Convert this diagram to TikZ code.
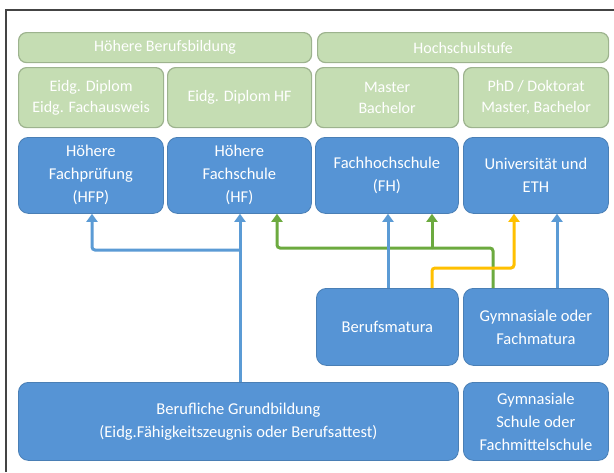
\documentclass[tikz,border=0pt]{standalone}
\usepackage{fontspec}
\setmainfont{Carlito}
\usetikzlibrary{arrows.meta}
\definecolor{gfill}{HTML}{C5DDB3}
\definecolor{gline}{HTML}{9DB38E}
\definecolor{bfill}{HTML}{5694D5}
\definecolor{bline}{HTML}{4A7FB5}
\definecolor{ablue}{HTML}{5B9BD5}
\definecolor{agreen}{HTML}{6CAA3F}
\definecolor{ayellow}{HTML}{FFC000}
\definecolor{frame}{HTML}{444444}
\tikzset{
  gbox/.style={draw=gline, line width=1.2pt, fill=gfill, rounded corners=8pt, text=white,
    anchor=north west, inner sep=0pt, align=center, font=\fontsize{16}{21}\selectfont},
  bbox/.style={draw=bline, line width=0.8pt, fill=bfill, rounded corners=10pt, text=white,
    anchor=north west, inner sep=0pt, align=center, font=\fontsize{16.5}{23}\selectfont},
  conn/.style={line width=3pt, rounded corners=3pt, -{Triangle[width=11pt,length=8pt]}},
  plain/.style={line width=3pt, rounded corners=3pt},
}
\begin{document}
\begin{tikzpicture}[x=1pt,y=-1pt]
\useasboundingbox (0,0) rectangle (614,472);
\fill[white] (0,0) rectangle (614,472);
\draw[frame, line width=1.5pt] (6,472) -- (6,10) -- (614,10);
% header
\node[gbox, minimum width=293pt, minimum height=30pt] (hdrL) at (18,32) {Höhere Berufsbildung};
\node[gbox, minimum width=291pt, minimum height=30pt] (hdrR) at (317,32) {Hochschulstufe};
% row 2
\node[gbox, minimum width=145pt, minimum height=60pt] (dipl) at (18,67) {Eidg. Diplom\\Eidg. Fachausweis};
\node[gbox, minimum width=144pt, minimum height=60pt] (diplhf) at (167,67) {Eidg. Diplom HF};
\node[gbox, minimum width=143pt, minimum height=60pt] (mb) at (315,67) {Master\\Bachelor};
\node[gbox, minimum width=145pt, minimum height=60pt] (phd) at (463,67) {PhD / Doktorat\\Master, Bachelor};
% row 3
\node[bbox, minimum width=145pt, minimum height=76pt] (hfp) at (18,137) {Höhere\\Fachprüfung\\(HFP)};
\node[bbox, minimum width=144pt, minimum height=76pt] (hf) at (167,137) {Höhere\\Fachschule\\(HF)};
\node[bbox, minimum width=143pt, minimum height=76pt] (fh) at (315,137) {Fachhochschule\\(FH)};
\node[bbox, minimum width=145pt, minimum height=76pt] (uni) at (463,137) {Universität und\\ETH};
% middle
\node[bbox, minimum width=142pt, minimum height=77pt] (bm) at (316,288) {Berufsmatura};
\node[bbox, minimum width=145pt, minimum height=77pt] (gf) at (463,288) {Gymnasiale oder\\Fachmatura};
% bottom
\node[bbox, minimum width=440pt, minimum height=78pt] (bg) at (18,382) {Berufliche Grundbildung\\(Eidg.Fähigkeitszeugnis oder Berufsattest)};
\node[bbox, minimum width=145pt, minimum height=78pt] (gs) at (463,382) {Gymnasiale\\Schule oder\\Fachmittelschule};
% junction coordinates
\coordinate (jb) at (240,250);
\coordinate (jg) at (432,248);
% connectors
\draw[plain, agreen] (gf.north -| 493,0) |- (jg);
\draw[conn, agreen] (jg) -| (hf.south -| 277,0);
\draw[conn, agreen] (jg) -- (fh.south -| jg);
\draw[conn, ayellow] (bm.north -| 432,0) |- (514,268) -- (uni.south -| 514,0);
\draw[conn, ablue] (bg.north -| jb) -- (hf.south -| jb);
\draw[conn, ablue] (jb) -| (hfp.south -| 92,0);
\draw[conn, ablue] (bm.north -| 388,0) -- (fh.south -| 388,0);
\draw[conn, ablue] (gf.north -| 557,0) -- (uni.south -| 557,0);
\end{tikzpicture}
\end{document}
